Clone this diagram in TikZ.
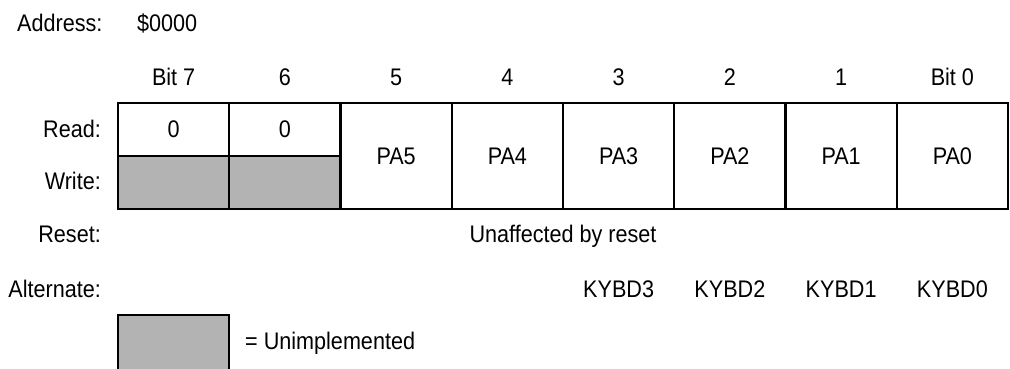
\documentclass[tikz,border=0pt]{standalone}
\usepackage{fontspec}
\setmainfont{Liberation Sans}[FakeStretch=0.9]
\usepackage{xcolor}
\usepackage{tikz}
\usetikzlibrary{positioning}

\definecolor{unimpgray}{RGB}{179,179,179}

\begin{document}
\begin{tikzpicture}[
  x=1pt,
  y=-1pt,
  every node/.style={font=\fontsize{24}{28}\selectfont},
  cell/.style={
    rectangle,
    draw,
    line width=2.4pt,
    inner sep=0pt,
    outer sep=0pt,
    minimum width=111.25pt,
    minimum height=53pt
  },
  tallcell/.style={
    cell,
    minimum height=106pt
  },
  unimp/.style={cell, fill=unimpgray},
  rowlabel/.style={anchor=base east, inner sep=0pt},
  bitlabel/.style={anchor=base, inner sep=0pt},
  plain/.style={anchor=base west, inner sep=0pt}
]

\useasboundingbox (0,0) rectangle (1010,368);

\node[plain] (addr) at (17,31) {Address:};
\node[plain] (addrval) at (137,31) {\$0000};

\node[cell, anchor=north west] (rd7) at (118,103) {0};
\node[cell, right=0pt of rd7] (rd6) {0};
\node[unimp, below=0pt of rd7] (wr7) {};
\node[unimp, below=0pt of rd6] (wr6) {};
\node[tallcell, anchor=north west] (pa5) at (rd6.north east) {PA5};
\node[tallcell, right=0pt of pa5] (pa4) {PA4};
\node[tallcell, right=0pt of pa4] (pa3) {PA3};
\node[tallcell, right=0pt of pa3] (pa2) {PA2};
\node[tallcell, right=0pt of pa2] (pa1) {PA1};
\node[tallcell, right=0pt of pa1] (pa0) {PA0};

\node[bitlabel] (bit7) at (rd7 |- 0,85) {Bit 7};
\node[bitlabel] (bit6) at (rd6 |- 0,85) {6};
\node[bitlabel] (bit5) at (pa5 |- 0,85) {5};
\node[bitlabel] (bit4) at (pa4 |- 0,85) {4};
\node[bitlabel] (bit3) at (pa3 |- 0,85) {3};
\node[bitlabel] (bit2) at (pa2 |- 0,85) {2};
\node[bitlabel] (bit1) at (pa1 |- 0,85) {1};
\node[bitlabel] (bit0) at (pa0 |- 0,85) {Bit 0};

\node[rowlabel] (read) at (101,137) {Read:};
\node[rowlabel] (write) at (101,189) {Write:};
\node[rowlabel] (reset) at (101,242) {Reset:};
\node[rowlabel] (alt) at (101,297) {Alternate:};

\node[bitlabel] (resetval) at (563,242) {Unaffected by reset};

\node[bitlabel] (kybd3) at (pa3 |- 0,297) {KYBD3};
\node[bitlabel] (kybd2) at (pa2 |- 0,297) {KYBD2};
\node[bitlabel] (kybd1) at (pa1 |- 0,297) {KYBD1};
\node[bitlabel] (kybd0) at (pa0 |- 0,297) {KYBD0};

\node[unimp, anchor=north west, minimum height=70pt] (key) at (118,315) {};
\node[plain] (keytext) at (245,349) {= Unimplemented};

\end{tikzpicture}
\end{document}
